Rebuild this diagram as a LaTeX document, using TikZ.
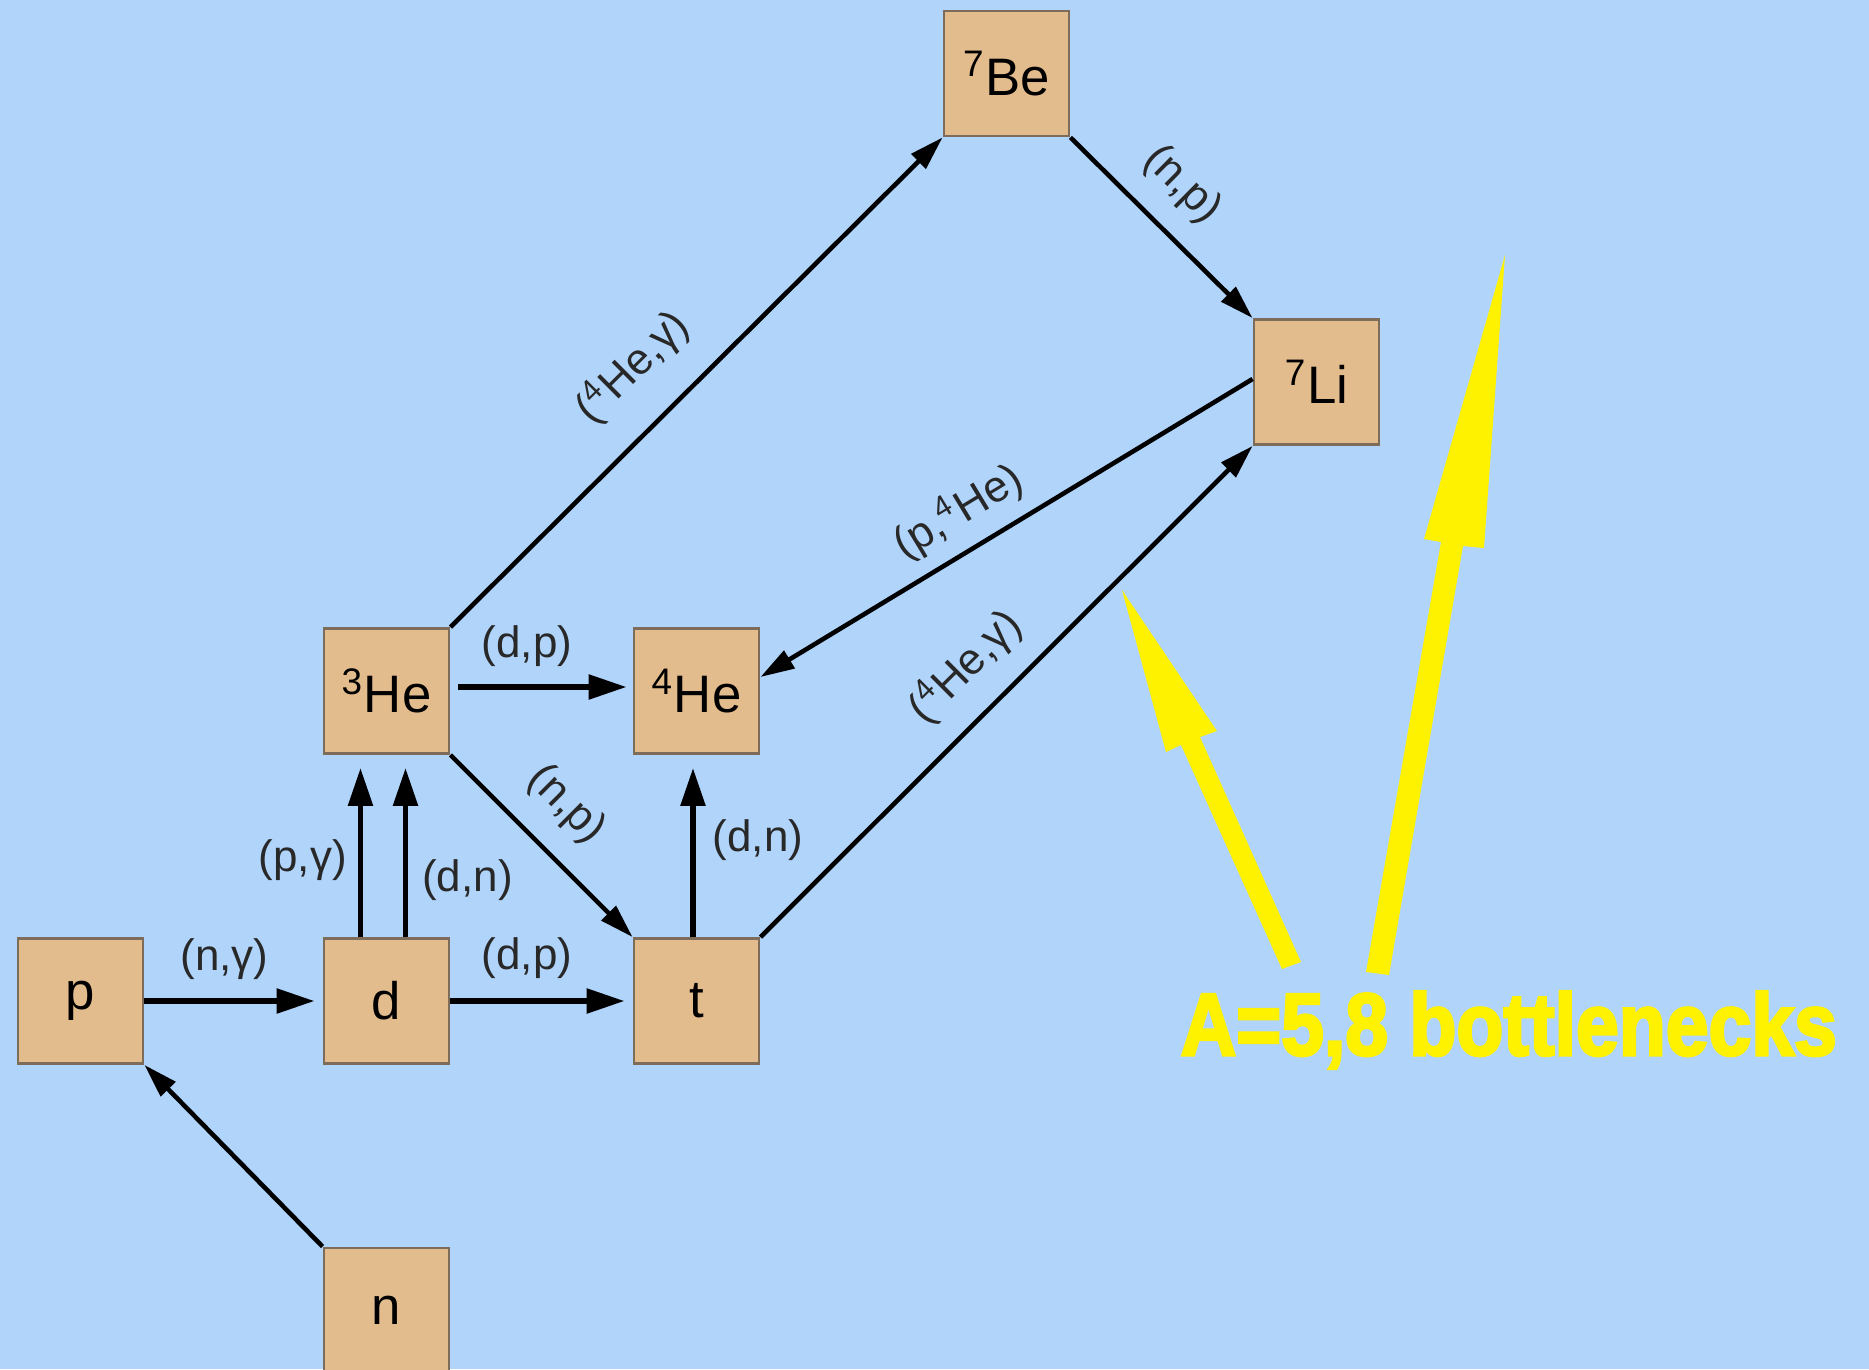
\documentclass[tikz,border=0pt]{standalone}
\usepackage{fontspec}
\setmainfont{Liberation Sans}
\newfontfamily\bnfont{Liberation Sans}[BoldFeatures={FakeBold=3.5}]
\usetikzlibrary{arrows.meta}
\definecolor{bgblue}{RGB}{176,212,250}
\definecolor{boxfill}{RGB}{227,188,142}
\definecolor{boxline}{RGB}{125,108,90}
\definecolor{lblgray}{RGB}{40,40,40}
\begin{document}
\begin{tikzpicture}[x=0.01cm,y=-0.01cm,
  nuc/.style={draw=boxline, line width=0.8pt, fill=boxfill, minimum size=1.25cm, inner sep=0pt, font=\fontsize{15}{18}\selectfont},
  arr/.style={line width=1.6pt, -{Triangle[length=3.8mm,width=2.4mm]}},
  darr/.style={line width=1.3pt, -{Triangle[length=3.4mm,width=2mm]}},
  lbl/.style={font=\fontsize{12.5}{15}\selectfont, text=lblgray, inner sep=0pt},
  ]
\fill[bgblue] (0,0) rectangle (1869,1369);
\useasboundingbox (0,0) rectangle (1869,1369);

\node[nuc] (p) at (80.5,1001) {p};
\node[nuc] (d) at (386.5,1001) {d};
\node[nuc] (t) at (696.5,1001) {t};
\node[nuc] (he3) at (386.5,691) {\textsuperscript{3}He};
\node[nuc] (he4) at (696.5,691) {\textsuperscript{4}He};
\node[nuc] (n) at (386.5,1310.5) {n};
\node[nuc] (be7) at (1006.5,73.5) {\textsuperscript{7}Be};
\node[nuc] (li7) at (1316.5,382) {\textsuperscript{7}Li};

\draw[arr, shorten >=0.8mm] (p) -- node[lbl, pos=0.45, above=1.9mm]{(n,γ)} (d);
\draw[arr, shorten >=0.8mm] (d) -- node[lbl, pos=0.42, above=2mm]{(d,p)} (t);
\draw[arr, shorten <=0.8mm, shorten >=0.6mm] ([yshift=0.4mm]he3.east) -- node[lbl, pos=0.42, above=1.8mm]{(d,p)} ([yshift=0.4mm]he4.west);
\draw[arr, shorten >=1.3mm] ([xshift=-2.6mm]d.north) -- node[lbl, pos=0.42, left=1.1mm]{(p,γ)} ([xshift=-2.6mm]he3.south);
\draw[arr, shorten >=1.3mm] ([xshift=1.9mm]d.north) -- node[lbl, pos=0.31, right=1.4mm]{(d,n)} ([xshift=1.9mm]he3.south);
\draw[arr, shorten >=1.3mm] ([xshift=-0.35mm]t.north) -- node[lbl, pos=0.53, right=1.7mm]{(d,n)} ([xshift=-0.35mm]he4.south);

\draw[darr] (he3.south east) -- node[lbl, sloped, pos=0.455, above=2.4mm]{(n,p)} (t.north west);
\draw[darr] (he3.north east) -- node[lbl, sloped, pos=0.45, above=3.1mm]{(\textsuperscript{4}He,γ)} (be7.south west);
\draw[darr] (be7.south east) -- node[lbl, sloped, pos=0.44, above=2.2mm]{(n,p)} (li7.north west);
\draw[darr] ([yshift=0.3mm]li7.west) -- node[lbl, sloped, pos=0.557, above=1.4mm]{(p,\textsuperscript{4}He)} ([yshift=1.4mm]he4.east);
\draw[darr] (t.north east) -- node[lbl, sloped, pos=0.483, above=2.2mm]{(\textsuperscript{4}He,γ)} (li7.south west);
\draw[darr] (n.north west) -- (p.south east);

\fill[yellow] (1282,969) -- (1301,962) -- (1200,737) -- (1217,731) -- (1122,590) -- (1166,752) -- (1181,745) -- cycle;
\fill[yellow] (1366,972) -- (1389,975) -- (1463,546) -- (1484,548) -- (1505,255) -- (1424,539) -- (1441,542) -- cycle;

\node[anchor=base west, inner sep=0pt, text=yellow, font=\bnfont\bfseries\fontsize{25}{30}\selectfont] (bn) at (1180,1055) {\scalebox{0.875}[1]{A=5,8 bottlenecks}};
\end{tikzpicture}
\end{document}
